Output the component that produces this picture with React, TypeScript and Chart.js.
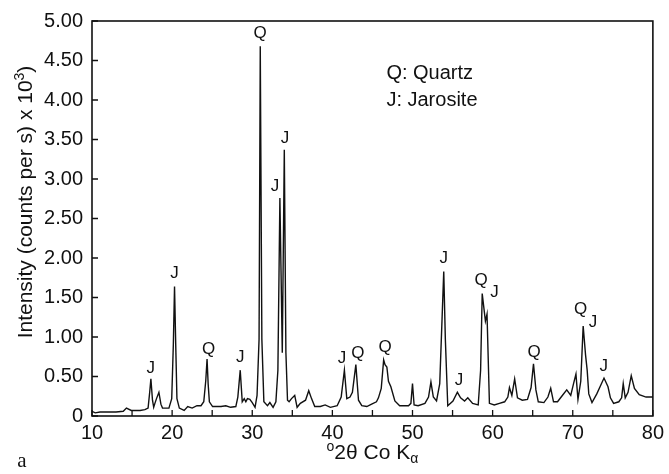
import { useEffect, useRef } from "react";
import { Chart, registerables } from "chart.js";

Chart.register(...registerables);

// 2θ (degrees, Co Kα)
const twoTheta = [
  10.0, 10.4, 11.0, 12.0, 13.0, 13.9, 14.3, 14.9, 16.0, 16.6, 17.0, 17.2, 17.35, 17.55, 17.7, 17.85, 18.05, 18.35, 18.6, 18.8,
  19.6, 19.95, 20.15, 20.3, 20.45, 20.6, 20.9, 21.5, 21.95, 22.5, 23.1, 23.6, 23.95, 24.2, 24.36, 24.5, 24.65, 25.05, 25.7, 26.1,
  26.7, 27.3, 27.95, 28.2, 28.5, 28.75, 29.0, 29.2, 29.4, 29.7, 30.0, 30.35, 30.6, 30.85, 31.0, 31.2, 31.45, 31.9, 32.2, 32.6,
  32.95, 33.2, 33.45, 33.75, 34.0, 34.2, 34.4, 34.6, 34.9, 35.3, 35.6, 36.0, 36.65, 37.05, 37.4, 37.8, 38.5, 39.1, 39.75, 40.6,
  41.1, 41.5, 41.8, 42.2, 42.5, 42.93, 43.26, 43.67, 44.3, 44.9, 45.5, 45.75, 46.1, 46.4, 46.57, 46.8, 47.0, 47.3, 47.8, 48.4,
  49.5, 49.8, 50.0, 50.2, 50.7, 51.55, 52.0, 52.3, 52.6, 53.0, 53.4, 53.9, 54.1, 54.4, 55.05, 55.6, 56.0, 56.5, 56.9, 57.5,
  58.2, 58.5, 58.7, 59.1, 59.3, 59.6, 60.2, 60.85, 61.5, 61.9, 62.1, 62.4, 62.75, 63.1, 63.7, 64.35, 64.8, 65.1, 65.4, 65.7,
  66.4, 66.9, 67.25, 67.6, 68.1, 68.7, 69.25, 69.75, 70.1, 70.4, 70.65, 71.0, 71.3, 71.6, 71.8, 72.0, 72.4, 73.0, 73.9, 74.4,
  74.7, 75.1, 75.75, 76.1, 76.3, 76.55, 76.9, 77.3, 77.7, 78.3, 79.15, 80.0,
];

// Intensity (counts per s) x 10^3
const intensity = [
  0.06, 0.04, 0.05, 0.05, 0.05, 0.06, 0.10, 0.07, 0.07, 0.08, 0.10, 0.30, 0.47, 0.20, 0.11, 0.16, 0.22, 0.30, 0.15, 0.10,
  0.10, 0.22, 0.90, 1.64, 0.90, 0.22, 0.10, 0.07, 0.12, 0.10, 0.13, 0.13, 0.18, 0.45, 0.72, 0.40, 0.18, 0.12, 0.12, 0.12,
  0.13, 0.11, 0.12, 0.24, 0.58, 0.18, 0.22, 0.18, 0.22, 0.21, 0.17, 0.11, 0.26, 0.97, 4.68, 0.97, 0.18, 0.13, 0.17, 0.11,
  0.18, 0.58, 2.76, 0.80, 3.37, 0.80, 0.20, 0.18, 0.22, 0.26, 0.11, 0.16, 0.20, 0.32, 0.22, 0.12, 0.12, 0.14, 0.11, 0.13,
  0.24, 0.58, 0.22, 0.24, 0.30, 0.65, 0.20, 0.13, 0.12, 0.15, 0.18, 0.23, 0.35, 0.71, 0.65, 0.62, 0.44, 0.37, 0.19, 0.13,
  0.13, 0.16, 0.41, 0.14, 0.13, 0.16, 0.24, 0.43, 0.24, 0.19, 0.41, 1.83, 0.97, 0.13, 0.19, 0.30, 0.23, 0.19, 0.23, 0.16,
  0.14, 0.58, 1.55, 1.20, 1.29, 0.16, 0.14, 0.16, 0.18, 0.24, 0.36, 0.26, 0.47, 0.23, 0.20, 0.21, 0.36, 0.66, 0.33, 0.18,
  0.17, 0.24, 0.35, 0.18, 0.18, 0.26, 0.33, 0.26, 0.41, 0.53, 0.21, 0.44, 1.14, 0.77, 0.58, 0.28, 0.17, 0.28, 0.48, 0.37,
  0.23, 0.16, 0.18, 0.23, 0.41, 0.23, 0.30, 0.51, 0.35, 0.27, 0.24, 0.24,
];

// Peak identifications (Q = quartz, J = jarosite), placed in data units
const peakLabelText = ["J", "J", "Q", "J", "Q", "J", "J", "J", "Q", "Q", "J", "J", "Q", "J", "Q", "Q", "J", "J"];
const peakLabelX = [17.32, 20.3, 24.56, 28.5, 30.98, 32.84, 34.08, 41.19, 43.18, 46.58, 53.9, 55.8, 58.57, 60.23, 65.19, 70.98, 72.52, 73.88];
const peakLabelY = [0.6, 1.8, 0.85, 0.74, 4.84, 2.91, 3.51, 0.73, 0.79, 0.87, 1.99, 0.45, 1.72, 1.57, 0.8, 1.35, 1.19, 0.63];

const legendLines = ["Q: Quartz", "J: Jarosite"];
const legendX = 46.74;
const legendY = [4.33, 4.0];

const xMajorTicks = [10, 20, 30, 40, 50, 60, 70, 80];
const xTickMarks = [10, 15, 20, 25, 30, 35, 40, 45, 50, 55, 60, 65, 70, 75, 80];
const yTickValues = [0, 0.5, 1, 1.5, 2, 2.5, 3, 3.5, 4, 4.5, 5];
const yTickLabels = ["0", "0.50", "1.00", "1.50", "2.00", "2.50", "3.00", "3.50", "4.00", "4.50", "5.00"];

const SANS = "'Liberation Sans', Arial, Helvetica, sans-serif";
const INK = "#111";

const overlay = {
  id: "overlay",
  afterDraw(chart: any) {
    const { ctx, chartArea: a, scales } = chart;
    const xs = scales.x;
    const ys = scales.y;
    ctx.save();
    ctx.strokeStyle = INK;
    ctx.fillStyle = INK;
    // frame
    ctx.lineWidth = 1.6;
    ctx.strokeRect(a.left, a.top, a.right - a.left, a.bottom - a.top);
    // inward ticks
    ctx.lineWidth = 1.3;
    ctx.beginPath();
    yTickValues.forEach((v) => {
      const p = ys.getPixelForValue(v);
      ctx.moveTo(a.left, p);
      ctx.lineTo(a.left + 6, p);
    });
    xTickMarks.forEach((v) => {
      const p = xs.getPixelForValue(v);
      ctx.moveTo(p, a.bottom);
      ctx.lineTo(p, a.bottom - 6);
    });
    ctx.stroke();

    // peak labels
    ctx.font = `17px ${SANS}`;
    ctx.textAlign = "center";
    ctx.textBaseline = "middle";
    peakLabelText.forEach((t, i) => {
      ctx.fillText(t, xs.getPixelForValue(peakLabelX[i]), ys.getPixelForValue(peakLabelY[i]));
    });

    // legend text
    ctx.font = `20px ${SANS}`;
    ctx.textAlign = "left";
    legendLines.forEach((t, i) => {
      ctx.fillText(t, xs.getPixelForValue(legendX), ys.getPixelForValue(legendY[i]));
    });

    // x title: °2θ Co Kα
    const cx = (a.left + a.right) / 2;
    const cy = 452;
    const mainFont = `21px ${SANS}`;
    const smallFont = `14px ${SANS}`;
    ctx.textBaseline = "alphabetic";
    ctx.font = smallFont;
    const wSup = ctx.measureText("o").width;
    const wSub = ctx.measureText("α").width;
    ctx.font = mainFont;
    const wMain = ctx.measureText("2θ Co K").width;
    let x0 = cx - (wSup + wMain + wSub) / 2;
    const base = cy + 7;
    ctx.font = smallFont;
    ctx.fillText("o", x0, base - 8);
    x0 += wSup;
    ctx.font = mainFont;
    ctx.fillText("2θ Co K", x0, base);
    x0 += wMain;
    ctx.font = smallFont;
    ctx.fillText("α", x0, base + 4);

    // y title: Intensity (counts per s) x 10³)
    ctx.save();
    ctx.translate(32, 202);
    ctx.rotate(-Math.PI / 2);
    const yFont = `21px ${SANS}`;
    const ySmall = `14px ${SANS}`;
    ctx.font = yFont;
    const p1 = "Intensity (counts per s) x 10";
    const w1 = ctx.measureText(p1).width;
    const w3 = ctx.measureText(")").width;
    ctx.font = ySmall;
    const w2 = ctx.measureText("3").width;
    let t0 = -(w1 + w2 + w3) / 2;
    ctx.font = yFont;
    ctx.fillText(p1, t0, 0);
    t0 += w1;
    ctx.font = ySmall;
    ctx.fillText("3", t0, -8);
    t0 += w2;
    ctx.font = yFont;
    ctx.fillText(")", t0, 0);
    ctx.restore();

    // panel letter
    ctx.font = `21px 'Liberation Serif', 'Times New Roman', serif`;
    ctx.textAlign = "center";
    ctx.textBaseline = "alphabetic";
    ctx.fillText("a", 22, 467);
    ctx.restore();
  },
};

export default function App() {
  const ref = useRef<HTMLCanvasElement | null>(null);
  useEffect(() => {
    if (!ref.current) return;
    const points = twoTheta.map((x, i) => ({ x, y: intensity[i] }));
    const chart = new Chart(ref.current, {
      type: "scatter",
      data: {
        datasets: [
          {
            data: points,
            showLine: true,
            borderColor: INK,
            borderWidth: 1.4,
            pointRadius: 0,
            tension: 0,
            fill: false,
          },
        ],
      },
      options: {
        animation: false,
        responsive: false,
        events: [],
        layout: { padding: { top: 16, right: 13, left: 0, bottom: 0 } },
        plugins: { legend: { display: false }, tooltip: { enabled: false }, title: { display: false } },
        scales: {
          x: {
            type: "linear",
            min: 10,
            max: 80,
            afterFit: (s: any) => {
              s.height = 58;
            },
            afterBuildTicks: (s: any) => {
              s.ticks = xMajorTicks.map((v) => ({ value: v }));
            },
            ticks: {
              color: INK,
              font: { family: SANS, size: 20 },
              padding: 5,
              maxRotation: 0,
              autoSkip: false,
              callback: (v: any) => String(v),
            },
            grid: { display: false, drawTicks: false },
            border: { display: false },
          },
          y: {
            type: "linear",
            min: 0,
            max: 5,
            afterFit: (s: any) => {
              s.width = 92;
            },
            afterBuildTicks: (s: any) => {
              s.ticks = yTickValues.map((v) => ({ value: v }));
            },
            ticks: {
              color: INK,
              font: { family: SANS, size: 20 },
              padding: 9,
              autoSkip: false,
              callback: (v: any) => {
                const i = yTickValues.indexOf(Number(v));
                return i >= 0 ? yTickLabels[i] : "";
              },
            },
            grid: { display: false, drawTicks: false },
            border: { display: false },
          },
        },
      },
      plugins: [overlay],
    } as any);
    return () => chart.destroy();
  }, []);
  return (
    <div style={{ position: "fixed", left: 0, top: 0, width: 669, height: 474, background: "#fff" }}>
      <canvas ref={ref} width={669} height={474} style={{ display: "block", width: 669, height: 474 }} />
    </div>
  );
}
